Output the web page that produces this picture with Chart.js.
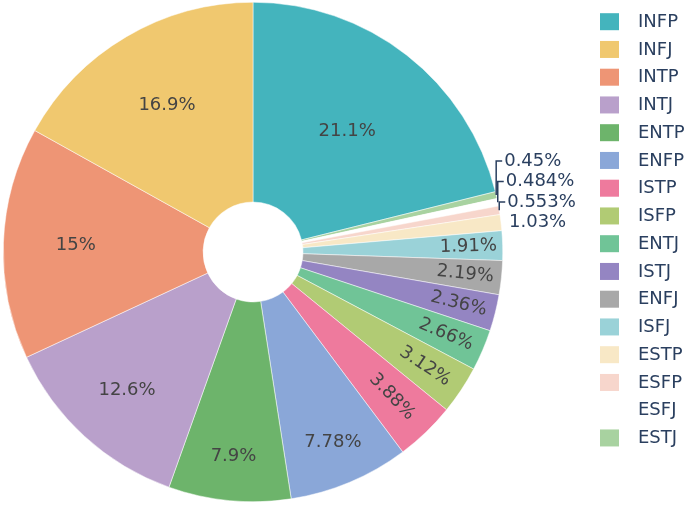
<!DOCTYPE html>
<html>
<head>
<meta charset="utf-8">
<script src="https://cdn.jsdelivr.net/npm/chart.js@4/dist/chart.umd.min.js"></script>
<style>
  html, body { margin: 0; padding: 0; background: #fff; }
  #wrap { width: 685px; height: 505px; position: relative; }
</style>
</head>
<body>
<div id="wrap"><canvas id="mbti"></canvas></div>
<script>
// MBTI type shares (%), in legend order
const types = ['INFP', 'INFJ', 'INTP', 'INTJ', 'ENTP', 'ENFP', 'ISTP', 'ISFP',
               'ENTJ', 'ISTJ', 'ENFJ', 'ISFJ', 'ESTP', 'ESFP', 'ESFJ', 'ESTJ'];
const shares = [21.1, 16.9, 15, 12.6, 7.9, 7.78, 3.88, 3.12,
                2.66, 2.36, 2.19, 1.91, 1.03, 0.553, 0.484, 0.45];
const palette = ['#44b4bd', '#f0c86f', '#ee9575', '#b9a0cb', '#6db46b', '#8aa7d8', '#ee7a9d', '#b1cb74',
                 '#70c497', '#9485c2', '#a8a8a8', '#9ad2d8', '#f8e8c6', '#f7d6cc', '#ffffff', '#a8d2a0'];

const FONT = '18px "DejaVu Sans"';

// pie goes clockwise from the top: first type, then the rest in reverse
const order = [0];
for (let i = types.length - 1; i > 0; i--) order.push(i);

function fmt(v) {
  return Number(v.toPrecision(3)) + '%';
}

// text on / beside the slices
const sliceLabels = {
  id: 'sliceLabels',
  afterDatasetsDraw(chart) {
    const ctx = chart.ctx;
    const meta = chart.getDatasetMeta(0);
    const vals = chart.data.datasets[0].data;
    ctx.save();
    ctx.font = FONT;
    ctx.textBaseline = 'middle';
    const outside = [];
    meta.data.forEach((arc, i) => {
      const p = arc.getProps(['x', 'y', 'startAngle', 'endAngle', 'outerRadius'], true);
      const mid = (p.startAngle + p.endAngle) / 2;
      const R = p.outerRadius;
      const v = vals[i];
      const txt = fmt(v);
      if (v > 5) {
        const r = R * (0.95 - 0.016 * v);
        ctx.fillStyle = '#444';
        ctx.textAlign = 'center';
        ctx.fillText(txt, p.x + Math.cos(mid) * r, p.y + Math.sin(mid) * r);
      } else if (v > 1.5) {
        const r = R * (0.92 - 0.03 * v);
        ctx.save();
        ctx.translate(p.x + Math.cos(mid) * r, p.y + Math.sin(mid) * r);
        ctx.rotate(mid);
        ctx.fillStyle = '#444';
        ctx.textAlign = 'center';
        ctx.fillText(txt, 0, 0);
        ctx.restore();
      } else {
        outside.push({
          txt: txt,
          px: p.x + Math.cos(mid) * R,
          py: p.y + Math.sin(mid) * R
        });
      }
    });
    // stack outside labels upward from the lowest one
    ctx.fillStyle = '#2a3f5f';
    ctx.strokeStyle = '#2a3f5f';
    ctx.lineWidth = 1.5;
    ctx.textAlign = 'left';
    let prevY = Infinity;
    for (let k = outside.length - 1; k >= 0; k--) {
      const o = outside[k];
      const ly = Math.min(o.py, prevY - 20.5);
      if (ly < o.py - 0.5) {
        ctx.beginPath();
        ctx.moveTo(o.px, o.py);
        ctx.lineTo(o.px, ly);
        ctx.lineTo(o.px + 6, ly);
        ctx.stroke();
      }
      ctx.fillText(o.txt, o.px + 8, ly);
      prevY = ly;
    }
    ctx.restore();
  }
};

// legend on the right, in type order
const sideLegend = {
  id: 'sideLegend',
  afterDraw(chart) {
    const ctx = chart.ctx;
    ctx.save();
    ctx.font = FONT;
    ctx.textBaseline = 'middle';
    ctx.textAlign = 'left';
    types.forEach((t, i) => {
      const y = 21.7 + i * 27.75;
      ctx.fillStyle = palette[i];
      ctx.fillRect(600, y - 8.5, 19, 17);
      ctx.fillStyle = '#2a3f5f';
      ctx.fillText(t, 638, y + 0.5);
    });
    ctx.restore();
  }
};

new Chart(document.getElementById('mbti'), {
  type: 'doughnut',
  data: {
    labels: order.map(i => types[i]),
    datasets: [{
      data: order.map(i => shares[i]),
      backgroundColor: order.map(i => palette[i]),
      borderColor: '#ffffff',
      borderWidth: 0.5
    }]
  },
  options: {
    responsive: true,
    maintainAspectRatio: false,
    animation: false,
    cutout: '20%',
    rotation: 0,
    layout: { padding: { left: 3, top: 2, bottom: 3, right: 182 } },
    plugins: {
      legend: { display: false },
      tooltip: { enabled: false }
    }
  },
  plugins: [sliceLabels, sideLegend]
});
</script>
</body>
</html>
